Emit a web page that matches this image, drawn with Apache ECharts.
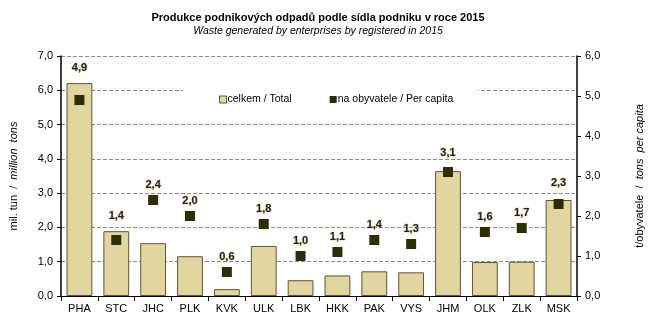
<!DOCTYPE html>
<html>
<head>
<meta charset="utf-8">
<script src="https://cdn.jsdelivr.net/npm/echarts@6/dist/echarts.min.js"></script>
<style>
  html, body { margin: 0; padding: 0; background: #fff; }
  #chart { width: 653px; height: 331px; }
</style>
</head>
<body>
<div id="chart"></div>
<script>
// Regions (kraje) of the Czech Republic
const regions = ['PHA', 'STC', 'JHC', 'PLK', 'KVK', 'ULK', 'LBK', 'HKK', 'PAK', 'VYS', 'JHM', 'OLK', 'ZLK', 'MSK'];
// Total waste generated, million tons
const totalMt = [6.21, 1.89, 1.54, 1.16, 0.20, 1.46, 0.46, 0.60, 0.72, 0.69, 3.64, 0.99, 1.00, 2.80];
// Waste per inhabitant, tons per capita
const perCapita = [4.9, 1.4, 2.4, 2.0, 0.6, 1.8, 1.0, 1.1, 1.4, 1.3, 3.1, 1.6, 1.7, 2.3];
// Axis ranges
const leftMax = 7, rightMax = 6;

const fmt = v => v.toFixed(1).replace('.', ',');
const FONT = 'Liberation Sans, Arial, sans-serif';

// Value labels sit above the bar top where the marker falls inside a bar
const labelLift = { PHA: 22, STC: 14, JHM: 9, MSK: 11 };
const perCapitaData = perCapita.map((v, i) => {
  const lift = labelLift[regions[i]];
  return lift ? { value: v, label: { distance: lift } } : v;
});

const chart = echarts.init(document.getElementById('chart'), null, { renderer: 'canvas' });

chart.setOption({
  animation: false,
  backgroundColor: '#ffffff',
  textStyle: { fontFamily: FONT },
  title: [
    {
      text: 'Produkce podnikových odpadů podle sídla podniku v roce 2015',
      left: 313, top: 7, textAlign: 'center',
      textStyle: { fontFamily: FONT, fontSize: 11, fontWeight: 'bold', color: '#000' }
    },
    {
      text: 'Waste generated by enterprises by registered in 2015',
      left: 313, top: 21, textAlign: 'center',
      textStyle: { fontFamily: FONT, fontSize: 10.5, fontStyle: 'italic', fontWeight: 'normal', color: '#000' }
    }
  ],
  legend: {
    left: 183, top: 88,
    itemGap: 38,
    itemWidth: 7, itemHeight: 7,
    backgroundColor: '#ffffff',
    padding: [6, 25, 6, 36],
    textStyle: { fontFamily: FONT, fontSize: 10.5, color: '#000', padding: [0, 0, 0, -4] },
    data: [
      { name: 'celkem / Total', icon: 'rect', itemStyle: { color: '#e2d6a0', borderColor: '#5a5630', borderWidth: 1 } },
      { name: 'na obyvatele / Per capita', icon: 'rect', itemStyle: { color: '#2e2e06', opacity: 1 } }
    ]
  },
  grid: { left: 60, right: 75, top: 56, bottom: 35 },
  xAxis: {
    type: 'category',
    data: regions,
    axisLine: { lineStyle: { color: '#000', width: 1 } },
    axisTick: { show: true, length: 5, lineStyle: { color: '#000' } },
    axisLabel: { color: '#000', fontSize: 11, fontFamily: FONT, margin: 7 }
  },
  yAxis: [
    {
      type: 'value', min: 0, max: leftMax, interval: 1,
      name: '{a|mil. tun  /  }{b|million  tons}',
      nameLocation: 'middle', nameGap: 42, nameRotate: 90,
      nameTextStyle: {
        rich: {
          a: { fontFamily: FONT, fontSize: 11, color: '#000' },
          b: { fontFamily: FONT, fontSize: 11, color: '#000', fontStyle: 'italic' }
        }
      },
      axisLine: { show: true, lineStyle: { color: '#000', width: 1.5 } },
      axisTick: { show: true, length: 4, lineStyle: { color: '#000' } },
      axisLabel: { color: '#000', fontSize: 11, fontFamily: FONT, margin: 8, formatter: fmt },
      splitLine: { show: true, lineStyle: { color: '#8c8c8c', type: [4, 2], width: 1 } }
    },
    {
      type: 'value', min: 0, max: rightMax, interval: 1,
      position: 'right',
      name: '{a|t/obyvatele  /  }{b|tons  per capita}',
      nameLocation: 'middle', nameGap: 57, nameRotate: 90,
      nameTextStyle: {
        rich: {
          a: { fontFamily: FONT, fontSize: 11, color: '#000' },
          b: { fontFamily: FONT, fontSize: 11, color: '#000', fontStyle: 'italic' }
        }
      },
      axisLine: { show: true, lineStyle: { color: '#000', width: 1.5 } },
      axisTick: { show: true, length: 4, lineStyle: { color: '#000' } },
      axisLabel: { color: '#000', fontSize: 11, fontFamily: FONT, margin: 8, formatter: fmt },
      splitLine: { show: false }
    }
  ],
  series: [
    {
      name: 'celkem / Total',
      type: 'bar',
      yAxisIndex: 0,
      data: totalMt,
      barWidth: '70%',
      itemStyle: { color: '#e2d6a0', borderColor: '#5a5630', borderWidth: 1 },
      z: 2
    },
    {
      name: 'na obyvatele / Per capita',
      type: 'scatter',
      yAxisIndex: 1,
      data: perCapitaData,
      symbol: 'rect',
      symbolSize: 10,
      itemStyle: { color: '#2e2e06', opacity: 1 },
      label: {
        show: true,
        position: 'top',
        distance: 5,
        formatter: p => fmt(p.value),
        fontFamily: FONT,
        fontSize: 11,
        fontWeight: 'bold',
        color: '#1c1c3c',
        textBorderColor: 'rgba(225,175,40,0.55)',
        textBorderWidth: 1.2
      },
      z: 3
    }
  ]
});
</script>
</body>
</html>
